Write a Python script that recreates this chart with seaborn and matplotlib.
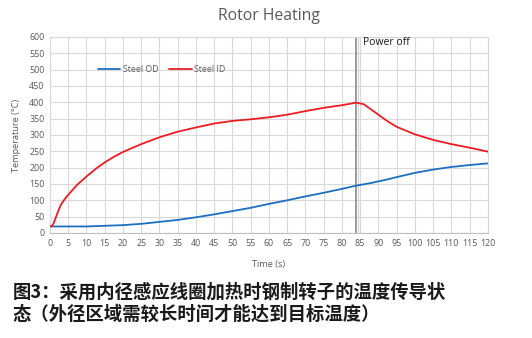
import matplotlib
matplotlib.use("Agg")
import matplotlib.pyplot as plt
import seaborn as sns
import pandas as pd

# Sample times (s) and measured temperatures (°C)
time_s = [0, 0.5, 1, 2, 3, 4, 5, 7.5, 10, 12.5, 15, 17.5, 20, 25, 30, 35, 40, 45,
          50, 55, 60, 65, 70, 75, 80, 84, 86, 88, 90, 92.5, 95, 100, 105, 110, 115, 120]
steel_od = [20, 20, 20, 20, 20, 20, 20, 20, 20, 21, 22, 23, 24, 28, 34, 40, 48, 57,
            67, 77, 89, 100, 112, 123, 135, 145, 149, 153, 158, 164, 171, 184, 194, 202, 208, 213]
steel_id = [20, 21, 30, 60, 87, 103, 117, 148, 173, 196, 216, 233, 248, 272, 293, 310, 323, 335,
            343, 348, 354, 362, 373, 383, 391, 399, 394, 378, 362, 342, 325, 302, 285, 272, 261, 249]
series_names = ["Steel OD", "Steel ID"]
power_off_s = 84

x_ticks = list(range(0, 121, 5))
y_ticks = list(range(0, 601, 50))

df = pd.DataFrame({
    "Time (s)": time_s * 2,
    "Temperature (°C)": steel_od + steel_id,
    "series": [series_names[0]] * len(time_s) + [series_names[1]] * len(time_s),
})

sns.set_theme(style="white")
plt.rcParams["font.family"] = ["Open Sans", "Noto Sans CJK SC", "DejaVu Sans"]

fig = plt.figure(figsize=(5.32, 3.38), dpi=100)
ax = fig.add_axes([0.094, 0.3107, 0.823, 0.58])

grid_c = "#d9d9d9"
text_c = "#595959"

sns.lineplot(data=df, x="Time (s)", y="Temperature (°C)", hue="series",
             palette={"Steel OD": "#1c6fc1", "Steel ID": "#ec1c24"},
             linewidth=1.3, ax=ax, legend=True, zorder=3)

ax.set_xlim(0, 120)
ax.set_ylim(0, 600)
ax.set_xticks(x_ticks)
ax.set_yticks(y_ticks)
ax.grid(True, color=grid_c, linewidth=0.8)
ax.set_axisbelow(True)
for s in ax.spines.values():
    s.set_color(grid_c)
    s.set_linewidth(0.8)
ax.spines["bottom"].set_color("#bfbfbf")
ax.tick_params(axis="both", length=0, labelsize=6.4, labelcolor=text_c, pad=4)

# Power-off marker
ax.axvline(power_off_s, color="#7f7f7f", linewidth=1.1, zorder=2)
ax.axvline(power_off_s + 0.3, color="#c8c8c8", linewidth=0.6, zorder=1)
ax.text(power_off_s + 1.7, 582, "Power off", ha="left", va="center",
        fontsize=7.5, color="#1a1a1a")

ax.set_xlabel("Time (s)", fontsize=6.6, color=text_c, labelpad=9)
ax.set_ylabel("Temperature (°C)", fontsize=6.6, color=text_c, labelpad=6)
ax.set_title("Rotor Heating", fontsize=11.3, color=text_c, pad=12)

leg = ax.legend(loc="center", bbox_to_anchor=(0.255, 0.832), ncol=2, frameon=False,
                fontsize=6.3, handlelength=2.6, handletextpad=0.3, columnspacing=1.2)
for t in leg.get_texts():
    t.set_color(text_c)

caption_font = ["Noto Sans CJK SC", "DejaVu Sans"]
fig.text(0.024, 1 - 292 / 338, "图3：采用内径感应线圈加热时钢制转子的温度传导状",
         family=caption_font, fontsize=13.2, fontweight="bold", color="#1a1a1a",
         ha="left", va="center")
fig.text(0.024, 1 - 314 / 338, "态（外径区域需较长时间才能达到目标温度）",
         family=caption_font, fontsize=13.2, fontweight="bold", color="#1a1a1a",
         ha="left", va="center")

fig.savefig("out.png", dpi=100)
